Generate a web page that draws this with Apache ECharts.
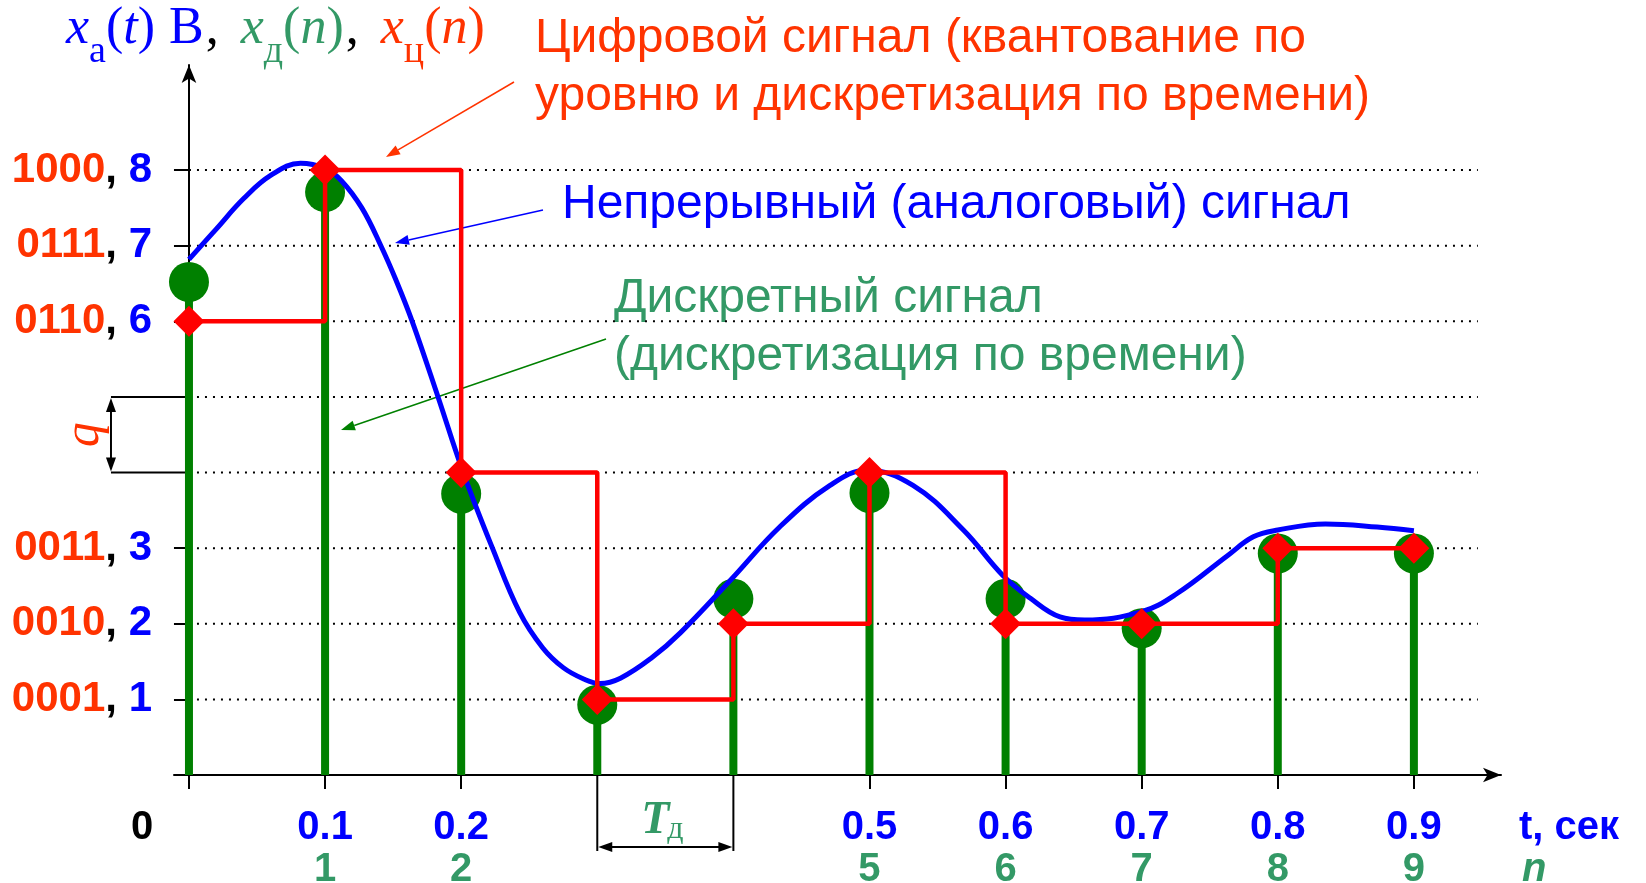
<!DOCTYPE html>
<html><head><meta charset="utf-8">
<script src="https://cdn.jsdelivr.net/npm/echarts@6/dist/echarts.min.js"></script>
<style>html,body{margin:0;padding:0;background:#fff}#c{width:1646px;height:883px}</style>
</head><body><div id="c"></div>
<script>
// ---- data ----
const sampleT   = [0, 0.1, 0.2, 0.3, 0.4, 0.5, 0.6, 0.7, 0.8, 0.9];
const discreteV = [6.52, 7.71, 3.72, 0.93, 2.33, 3.73, 2.33, 1.94, 2.93, 2.93];
const quantV    = [6, 8, 4, 1, 2, 4, 2, 2, 3, 3];
const analogT = [0, 0.02, 0.04, 0.06, 0.082, 0.1, 0.112, 0.127, 0.141, 0.152, 0.164, 0.183, 0.2015, 0.223, 0.243, 0.26, 0.275, 0.29, 0.302, 0.317, 0.34, 0.361, 0.398, 0.434, 0.471, 0.498, 0.532, 0.569, 0.598, 0.618, 0.64, 0.658, 0.7, 0.726, 0.763, 0.782, 0.8, 0.835, 0.873, 0.9];
const analogV = [6.82, 7.22, 7.62, 7.93, 8.09, 8.02, 7.86, 7.5, 7.0, 6.55, 6.0, 5.0, 4.0, 3.0, 2.15, 1.68, 1.42, 1.27, 1.21, 1.28, 1.55, 1.88, 2.58, 3.28, 3.83, 4.03, 3.83, 3.24, 2.64, 2.34, 2.09, 2.05, 2.16, 2.4, 2.9, 3.15, 3.24, 3.32, 3.28, 3.23];
const yTickValues = [1, 2, 3, 6, 7, 8];
const yCodes = ['0001', '0010', '0011', '0110', '0111', '1000'];
const yGridLevels = [1, 2, 3, 4, 5, 6, 7, 8];
const xTickValues = [0, 0.1, 0.2, 0.5, 0.6, 0.7, 0.8, 0.9];
const xLabelValues = [0.1, 0.2, 0.5, 0.6, 0.7, 0.8, 0.9];
const xLabelT = ['0.1', '0.2', '0.5', '0.6', '0.7', '0.8', '0.9'];
const xLabelN = ['1', '2', '5', '6', '7', '8', '9'];
const qLevels = [4, 5];
const tdSpan = [0.3, 0.4];
const gridEndT = 0.947;

// ---- style constants ----
const BLUE = '#0000FF', GREEN = '#008000', TGREEN = '#339966', ORANGE = '#FF3300', RED = '#FF0000';
const SANS = '"Liberation Sans", Arial, sans-serif';
const SERIF = '"Liberation Serif", "Times New Roman", serif';

function arrow(x1, y1, x2, y2, color, w, hl, hw) {
  const dx = x2 - x1, dy = y2 - y1, L = Math.hypot(dx, dy);
  const ux = dx / L, uy = dy / L, px = -uy, py = ux;
  const bx = x2 - ux * hl, by = y2 - uy * hl;
  return [
    {type: 'line', shape: {x1, y1, x2: bx, y2: by}, style: {stroke: color, lineWidth: w}},
    {type: 'polygon', shape: {points: [[x2, y2], [bx + px * hw, by + py * hw], [bx - px * hw, by - py * hw]]}, style: {fill: color}}
  ];
}

const chart = echarts.init(document.getElementById('c'), null, {renderer: 'canvas'});

function tStyle(color, italic, sub, extra) {
  const s = {fontFamily: SERIF, fill: color};
  if (italic) s.fontStyle = 'italic';
  if (sub) { s.fontSize = 38; s.lineHeight = 38; s.verticalAlign = 'bottom'; }
  else { s.fontSize = 52; s.lineHeight = 84; }
  return Object.assign(s, extra || {});
}
const titleRich = {
  xb: tStyle(BLUE, true), pb: tStyle(BLUE, false), sb: tStyle(BLUE, false, true),
  Bb: tStyle(BLUE, false, false, {padding: [0, 0, 0, 14]}),
  xg: tStyle(TGREEN, true), pg: tStyle(TGREEN, false), sg: tStyle(TGREEN, false, true),
  xr: tStyle(ORANGE, true), pr: tStyle(ORANGE, false), sr: tStyle(ORANGE, false, true),
  k: tStyle('#000', false, false, {padding: [0, 22, 0, 2]})
};

const graphics = [
  {type: 'text', x: 66, y: 29, style: {
    text: '{xb|x}{sb|а}{pb|(}{xb|t}{pb|)}{Bb|В}{k|,}{xg|x}{sg|д}{pg|(}{xg|n}{pg|)}{k|,}{xr|x}{sr|ц}{pr|(}{xr|n}{pr|)}',
    rich: titleRich, align: 'left', verticalAlign: 'middle'}},
  {type: 'text', x: 535, y: 39, style: {text: 'Цифровой сигнал (квантование по', font: '48px ' + SANS, fill: ORANGE, align: 'left', verticalAlign: 'middle'}},
  {type: 'text', x: 535, y: 97, style: {text: 'уровню и дискретизация по времени)', font: '48px ' + SANS, fill: ORANGE, align: 'left', verticalAlign: 'middle'}},
  {type: 'text', x: 562, y: 205, style: {text: 'Непрерывный (аналоговый) сигнал', font: '48px ' + SANS, fill: BLUE, align: 'left', verticalAlign: 'middle'}},
  {type: 'text', x: 614, y: 299, style: {text: 'Дискретный сигнал', font: '48px ' + SANS, fill: TGREEN, align: 'left', verticalAlign: 'middle'}},
  {type: 'text', x: 614, y: 357, style: {text: '(дискретизация по времени)', font: '48px ' + SANS, fill: TGREEN, align: 'left', verticalAlign: 'middle'}},
  {type: 'text', x: 142, y: 828, style: {text: '0', font: 'bold 40px ' + SANS, fill: '#000', align: 'center', verticalAlign: 'middle'}},
  {type: 'text', x: 1519, y: 828, style: {text: 't, сек', font: 'bold 40px ' + SANS, fill: BLUE, align: 'left', verticalAlign: 'middle'}},
  {type: 'text', x: 1522, y: 870, style: {text: 'n', font: 'italic bold 40px ' + SANS, fill: TGREEN, align: 'left', verticalAlign: 'middle'}}
].concat(
  arrow(514, 82, 386, 157, ORANGE, 1.5, 14, 5),
  arrow(543, 210, 395, 243, BLUE, 1.5, 14, 5),
  arrow(606, 339, 341, 430, GREEN, 1.5, 14, 5)
);

const option = {
  animation: false,
  backgroundColor: '#fff',
  grid: {left: 174, right: 145, top: 65, bottom: 108, containLabel: false, outerBoundsMode: 'none'},
  xAxis: {
    type: 'value', min: -0.011, max: 0.964,
    axisLine: {show: true, onZero: true, lineStyle: {color: '#000', width: 2}, symbol: ['none', 'arrow'], symbolSize: [11, 18]},
    axisTick: {show: true, inside: false, length: 14, lineStyle: {color: '#000', width: 2}, customValues: xTickValues},
    axisLabel: {
      show: true, margin: 32, customValues: xLabelValues,
      formatter: function (val) {
        const i = xLabelValues.findIndex(v => Math.abs(v - val) < 1e-6);
        return i < 0 ? '' : '{t|' + xLabelT[i] + '}\n{n|' + xLabelN[i] + '}';
      },
      rich: {
        t: {fontFamily: SANS, fontWeight: 'bold', fontSize: 40, lineHeight: 42, color: BLUE},
        n: {fontFamily: SANS, fontWeight: 'bold', fontSize: 40, lineHeight: 42, color: TGREEN}
      }
    },
    splitLine: {show: false}
  },
  yAxis: {
    type: 'value', min: 0, max: 9.39,
    axisLine: {show: true, onZero: true, lineStyle: {color: '#000', width: 2}, symbol: ['none', 'arrow'], symbolSize: [11, 18]},
    axisTick: {show: true, inside: false, length: 15, lineStyle: {color: '#000', width: 2}, customValues: yTickValues},
    axisLabel: {
      show: true, margin: 22, customValues: yTickValues,
      formatter: function (val) {
        const i = yTickValues.indexOf(Math.round(val));
        return i < 0 ? '' : '{r|' + yCodes[i] + '}{k|, }{b|' + yTickValues[i] + '}';
      },
      rich: {
        r: {fontFamily: SANS, fontWeight: 'bold', fontSize: 42, color: ORANGE},
        k: {fontFamily: SANS, fontWeight: 'bold', fontSize: 42, color: '#000'},
        b: {fontFamily: SANS, fontWeight: 'bold', fontSize: 42, color: BLUE}
      }
    },
    splitLine: {show: false}
  },
  graphic: {elements: graphics},
  series: [
    { // dotted level lines
      type: 'custom', z: 1, silent: true,
      data: yGridLevels.map(l => [0, l]),
      encode: {x: 0, y: 1},
      renderItem: function (params, api) {
        const a = api.coord([api.value(0), api.value(1)]);
        const b = api.coord([gridEndT, api.value(1)]);
        return {type: 'line', shape: {x1: a[0], y1: a[1], x2: b[0], y2: b[1]},
          style: {stroke: '#000', lineWidth: 2, lineDash: [2, 6]}};
      }
    },
    { // quantization step marker q
      type: 'custom', z: 2, silent: true,
      data: [[0, qLevels[0], qLevels[1]]],
      encode: {x: 0, y: [1, 2]},
      renderItem: function (params, api) {
        const a = api.coord([api.value(0), api.value(1)]);
        const b = api.coord([api.value(0), api.value(2)]);
        const x0 = a[0], xa = x0 - 78;
        return {type: 'group', children: [
          {type: 'line', shape: {x1: xa, y1: a[1], x2: x0, y2: a[1]}, style: {stroke: '#000', lineWidth: 2}},
          {type: 'line', shape: {x1: xa, y1: b[1], x2: x0, y2: b[1]}, style: {stroke: '#000', lineWidth: 2}},
          {type: 'line', shape: {x1: xa, y1: b[1] + 12, x2: xa, y2: a[1] - 12}, style: {stroke: '#000', lineWidth: 2}},
          {type: 'polygon', shape: {points: [[xa, b[1] + 1], [xa - 5, b[1] + 15], [xa + 5, b[1] + 15]]}, style: {fill: '#000'}},
          {type: 'polygon', shape: {points: [[xa, a[1] - 1], [xa - 5, a[1] - 15], [xa + 5, a[1] - 15]]}, style: {fill: '#000'}},
          {type: 'text', x: xa - 26, y: (a[1] + b[1]) / 2, rotation: Math.PI / 2,
            style: {text: 'q', font: 'italic 50px ' + SERIF, fill: ORANGE, align: 'center', verticalAlign: 'middle'}}
        ]};
      }
    },
    { // sampling period marker
      type: 'custom', z: 2, silent: true,
      data: [[tdSpan[0], 0, tdSpan[1]]],
      encode: {x: [0, 2], y: 1},
      renderItem: function (params, api) {
        const a = api.coord([api.value(0), api.value(1)]);
        const b = api.coord([api.value(2), api.value(1)]);
        const ya = a[1] + 72;
        return {type: 'group', children: [
          {type: 'line', shape: {x1: a[0], y1: a[1], x2: a[0], y2: a[1] + 76}, style: {stroke: '#000', lineWidth: 2}},
          {type: 'line', shape: {x1: b[0], y1: b[1], x2: b[0], y2: b[1] + 76}, style: {stroke: '#000', lineWidth: 2}},
          {type: 'line', shape: {x1: a[0] + 12, y1: ya, x2: b[0] - 12, y2: ya}, style: {stroke: '#000', lineWidth: 2}},
          {type: 'polygon', shape: {points: [[a[0] + 1, ya], [a[0] + 15, ya - 5], [a[0] + 15, ya + 5]]}, style: {fill: '#000'}},
          {type: 'polygon', shape: {points: [[b[0] - 1, ya], [b[0] - 15, ya - 5], [b[0] - 15, ya + 5]]}, style: {fill: '#000'}},
          {type: 'text', x: (a[0] + b[0]) / 2 - 10, y: a[1] + 46,
            style: {text: 'T', font: 'italic bold 46px ' + SERIF, fill: TGREEN, align: 'center', verticalAlign: 'middle'}},
          {type: 'text', x: (a[0] + b[0]) / 2 + 10, y: a[1] + 55,
            style: {text: 'д', font: '32px ' + SERIF, fill: TGREEN, align: 'center', verticalAlign: 'middle'}}
        ]};
      }
    },
    { // discrete stems
      type: 'custom', z: 3, silent: true,
      data: sampleT.map((t, i) => [t, discreteV[i]]),
      encode: {x: 0, y: 1},
      renderItem: function (params, api) {
        const top = api.coord([api.value(0), api.value(1)]);
        const base = api.coord([api.value(0), 0]);
        return {type: 'rect', shape: {x: top[0] - 4, y: top[1], width: 8, height: base[1] - top[1]}, style: {fill: GREEN}};
      }
    },
    { // discrete sample dots
      type: 'scatter', z: 4, silent: true,
      data: sampleT.map((t, i) => [t, discreteV[i]]),
      symbol: 'circle', symbolSize: 40,
      itemStyle: {color: GREEN, opacity: 1}
    },
    { // analog signal
      type: 'line', z: 5, silent: true,
      data: analogT.map((t, i) => [t, analogV[i]]),
      smooth: 0.4, showSymbol: false, symbol: 'none',
      lineStyle: {color: BLUE, width: 5}
    },
    { // digital (quantized) signal
      type: 'line', z: 6, silent: true,
      data: sampleT.map((t, i) => [t, quantV[i]]),
      step: 'end',
      symbol: 'diamond', symbolSize: 31, showSymbol: true,
      lineStyle: {color: RED, width: 4.5},
      itemStyle: {color: RED, borderWidth: 0, opacity: 1}
    }
  ]
};
chart.setOption(option);
</script>
</body></html>
